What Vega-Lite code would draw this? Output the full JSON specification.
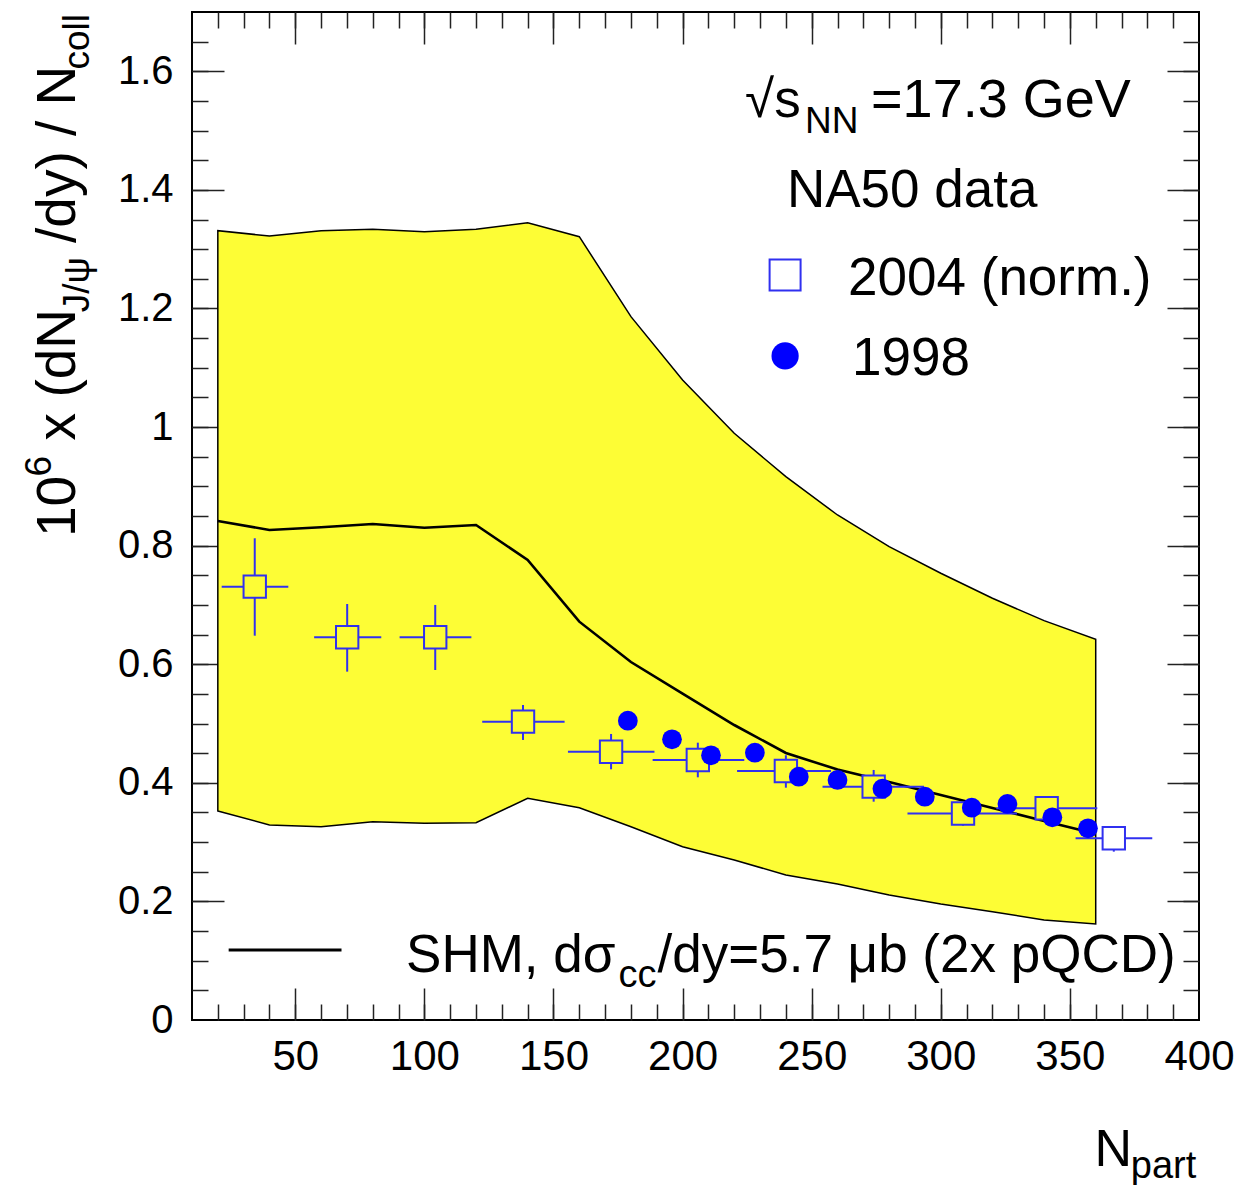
{
  "$schema": "https://vega.github.io/schema/vega-lite/v6.json",
  "width": 1007,
  "height": 1008,
  "autosize": {"type": "none"},
  "padding": {"left": 192, "top": 12, "right": 40, "bottom": 165},
  "background": "white",
  "config": {
    "view": {"stroke": "black", "strokeWidth": 2},
    "font": "Liberation Sans",
    "axis": {"grid": false, "domain": false, "labelColor": "black", "labelFont": "Liberation Sans", "tickColor": "#222222", "tickWidth": 1.5, "title": null}
  },
  "resolve": {"axis": {"x": "independent", "y": "independent"}},
  "datasets": {
    "band": [
      {"npart": 20, "lo": 0.3525, "hi": 1.3312},
      {"npart": 40, "lo": 0.3289, "hi": 1.3222},
      {"npart": 60, "lo": 0.326, "hi": 1.3312},
      {"npart": 80, "lo": 0.3345, "hi": 1.3336},
      {"npart": 100, "lo": 0.3317, "hi": 1.3295},
      {"npart": 120, "lo": 0.3328, "hi": 1.3336},
      {"npart": 140, "lo": 0.3739, "hi": 1.3447},
      {"npart": 160, "lo": 0.358, "hi": 1.3211},
      {"npart": 180, "lo": 0.326, "hi": 1.1862},
      {"npart": 200, "lo": 0.2923, "hi": 1.0794},
      {"npart": 220, "lo": 0.2699, "hi": 0.9895},
      {"npart": 240, "lo": 0.2446, "hi": 0.9163},
      {"npart": 260, "lo": 0.2294, "hi": 0.8517},
      {"npart": 280, "lo": 0.2108, "hi": 0.7983},
      {"npart": 300, "lo": 0.1956, "hi": 0.7534},
      {"npart": 320, "lo": 0.1827, "hi": 0.7113},
      {"npart": 340, "lo": 0.1687, "hi": 0.6735},
      {"npart": 360, "lo": 0.1619, "hi": 0.6421}
    ],
    "model": [
      {"npart": 20, "shm": 0.8416},
      {"npart": 40, "shm": 0.8265},
      {"npart": 60, "shm": 0.831},
      {"npart": 80, "shm": 0.8366},
      {"npart": 100, "shm": 0.8303},
      {"npart": 120, "shm": 0.8349},
      {"npart": 140, "shm": 0.7758},
      {"npart": 160, "shm": 0.6718},
      {"npart": 180, "shm": 0.6037},
      {"npart": 200, "shm": 0.5504},
      {"npart": 220, "shm": 0.4975},
      {"npart": 240, "shm": 0.4504},
      {"npart": 260, "shm": 0.4223},
      {"npart": 280, "shm": 0.4013},
      {"npart": 300, "shm": 0.3795},
      {"npart": 320, "shm": 0.3577},
      {"npart": 340, "shm": 0.3358},
      {"npart": 360, "shm": 0.314}
    ],
    "d2004": [
      {"x": 34.3, "y": 0.7308, "xlo": 21.5, "xhi": 47.3, "ylo": 0.6482, "yhi": 0.8124},
      {"x": 70.1, "y": 0.6455, "xlo": 57.3, "xhi": 83.3, "ylo": 0.5875, "yhi": 0.7016},
      {"x": 104.2, "y": 0.6455, "xlo": 90.4, "xhi": 118.2, "ylo": 0.5903, "yhi": 0.7},
      {"x": 138.2, "y": 0.5031, "xlo": 122.4, "xhi": 154.3, "ylo": 0.4723, "yhi": 0.5313},
      {"x": 172.3, "y": 0.4525, "xlo": 155.6, "xhi": 189.1, "ylo": 0.4228, "yhi": 0.4824},
      {"x": 205.9, "y": 0.4385, "xlo": 188.4, "xhi": 223.9, "ylo": 0.4093, "yhi": 0.4677},
      {"x": 240.0, "y": 0.42, "xlo": 221.1, "xhi": 257.5, "ylo": 0.3918, "yhi": 0.4465},
      {"x": 274.0, "y": 0.3935, "xlo": 254.2, "xhi": 293.5, "ylo": 0.3682, "yhi": 0.4217},
      {"x": 308.6, "y": 0.3483, "xlo": 287.1, "xhi": 329.5, "ylo": 0.3277, "yhi": 0.3682},
      {"x": 341.0, "y": 0.3571, "xlo": 321.5, "xhi": 360.6, "ylo": 0.339, "yhi": 0.3778},
      {"x": 367.0, "y": 0.3065, "xlo": 352.2, "xhi": 381.9, "ylo": 0.2839, "yhi": 0.3272}
    ],
    "d1998": [
      {"x": 178.8, "y": 0.5048},
      {"x": 195.9, "y": 0.4734},
      {"x": 211.0, "y": 0.4465},
      {"x": 228.0, "y": 0.4508},
      {"x": 245.0, "y": 0.4104},
      {"x": 260.0, "y": 0.4048},
      {"x": 277.4, "y": 0.3901},
      {"x": 293.8, "y": 0.3766},
      {"x": 312.0, "y": 0.3581},
      {"x": 325.8, "y": 0.3643},
      {"x": 343.2, "y": 0.3419},
      {"x": 357.0, "y": 0.3233}
    ],
    "one": [{}]
  },
  "layer": [
    {
      "data": {"name": "band"},
      "mark": {"type": "area", "fill": "#fdfd35", "stroke": "black", "strokeWidth": 1.5},
      "encoding": {
        "x": {"field": "npart", "type": "quantitative", "scale": {"domain": [10, 400], "nice": false, "zero": false},
          "axis": {"orient": "bottom", "values": [50, 100, 150, 200, 250, 300, 350, 400], "ticks": false, "tickSize": 0, "labelFontSize": 42, "labelPadding": 16, "labelBaseline": "top", "labelFlush": false}},
        "y": {"field": "lo", "type": "quantitative", "scale": {"domain": [0, 1.7], "nice": false, "zero": false},
          "axis": {"orient": "left", "values": [0, 0.2, 0.4, 0.6, 0.8, 1, 1.2, 1.4, 1.6], "format": "~g", "ticks": false, "tickSize": 0, "labelFontSize": 40, "labelPadding": 19, "labelFlush": false}},
        "y2": {"field": "hi"}
      }
    },
    {
      "data": {"name": "model"},
      "mark": {"type": "line", "color": "black", "strokeWidth": 2.6},
      "encoding": {
        "x": {"field": "npart", "type": "quantitative", "scale": {"domain": [10, 400], "nice": false, "zero": false},
          "axis": {"orient": "bottom", "values": [50, 100, 150, 200, 250, 300, 350], "labels": false, "ticks": true, "tickSize": -32}},
        "y": {"field": "shm", "type": "quantitative", "scale": {"domain": [0, 1.7], "nice": false, "zero": false},
          "axis": {"orient": "left", "values": [0.2, 0.4, 0.6, 0.8, 1, 1.2, 1.4, 1.6], "labels": false, "ticks": true, "tickSize": -32}}
      }
    },
    {
      "data": {"name": "d2004"},
      "mark": {"type": "rule", "color": "#3030f0", "strokeWidth": 2},
      "encoding": {
        "x": {"field": "xlo", "type": "quantitative", "scale": {"domain": [10, 400], "nice": false, "zero": false},
          "axis": {"orient": "bottom", "values": [20, 30, 40, 50, 60, 70, 80, 90, 100, 110, 120, 130, 140, 150, 160, 170, 180, 190, 200, 210, 220, 230, 240, 250, 260, 270, 280, 290, 300, 310, 320, 330, 340, 350, 360, 370, 380, 390], "labels": false, "ticks": true, "tickSize": -16}},
        "x2": {"field": "xhi"},
        "y": {"field": "y", "type": "quantitative", "scale": {"domain": [0, 1.7], "nice": false, "zero": false},
          "axis": {"orient": "left", "values": [0.05, 0.1, 0.15, 0.2, 0.25, 0.3, 0.35, 0.4, 0.45, 0.5, 0.55, 0.6, 0.65, 0.7, 0.75, 0.8, 0.85, 0.9, 0.95, 1, 1.05, 1.1, 1.15, 1.2, 1.25, 1.3, 1.35, 1.4, 1.45, 1.5, 1.55, 1.6, 1.65], "labels": false, "ticks": true, "tickSize": -16}}
      }
    },
    {
      "data": {"name": "d2004"},
      "mark": {"type": "rule", "color": "#3030f0", "strokeWidth": 2},
      "encoding": {
        "x": {"field": "x", "type": "quantitative", "scale": {"domain": [10, 400], "nice": false, "zero": false},
          "axis": {"orient": "top", "values": [50, 100, 150, 200, 250, 300, 350], "labels": false, "ticks": true, "tickSize": -32}},
        "y": {"field": "ylo", "type": "quantitative", "scale": {"domain": [0, 1.7], "nice": false, "zero": false},
          "axis": {"orient": "right", "values": [0.2, 0.4, 0.6, 0.8, 1, 1.2, 1.4, 1.6], "labels": false, "ticks": true, "tickSize": -32}},
        "y2": {"field": "yhi"}
      }
    },
    {
      "data": {"name": "d2004"},
      "mark": {"type": "point", "shape": "square", "size": 500, "stroke": "#3030f0", "strokeWidth": 2, "opacity": 1, "filled": false},
      "encoding": {
        "x": {"field": "x", "type": "quantitative", "scale": {"domain": [10, 400], "nice": false, "zero": false},
          "axis": {"orient": "top", "values": [20, 30, 40, 50, 60, 70, 80, 90, 100, 110, 120, 130, 140, 150, 160, 170, 180, 190, 200, 210, 220, 230, 240, 250, 260, 270, 280, 290, 300, 310, 320, 330, 340, 350, 360, 370, 380, 390], "labels": false, "ticks": true, "tickSize": -16}},
        "y": {"field": "y", "type": "quantitative", "scale": {"domain": [0, 1.7], "nice": false, "zero": false},
          "axis": {"orient": "right", "values": [0.05, 0.1, 0.15, 0.2, 0.25, 0.3, 0.35, 0.4, 0.45, 0.5, 0.55, 0.6, 0.65, 0.7, 0.75, 0.8, 0.85, 0.9, 0.95, 1, 1.05, 1.1, 1.15, 1.2, 1.25, 1.3, 1.35, 1.4, 1.45, 1.5, 1.55, 1.6, 1.65], "labels": false, "ticks": true, "tickSize": -16}},
        "fill": {"condition": {"test": "datum.x > 360", "value": "white"}, "value": "#fdfd35"},
        "fillOpacity": {"value": 1}
      }
    },
    {
      "data": {"name": "d1998"},
      "mark": {"type": "point", "shape": "circle", "size": 390, "filled": true, "color": "#0000ff", "opacity": 1},
      "encoding": {
        "x": {"field": "x", "type": "quantitative", "scale": {"domain": [10, 400], "nice": false, "zero": false}, "axis": null},
        "y": {"field": "y", "type": "quantitative", "scale": {"domain": [0, 1.7], "nice": false, "zero": false}, "axis": null}
      }
    },
    {
      "data": {"name": "one"},
      "mark": {"type": "point", "shape": "square", "size": 960, "filled": false, "fill": "white", "stroke": "#3030f0", "strokeWidth": 2, "opacity": 1},
      "encoding": {
        "x": {"datum": 239.7, "type": "quantitative", "scale": {"domain": [10, 400], "nice": false, "zero": false}, "axis": null},
        "y": {"datum": 1.2565, "type": "quantitative", "scale": {"domain": [0, 1.7], "nice": false, "zero": false}, "axis": null}
      }
    },
    {
      "data": {"name": "one"},
      "mark": {"type": "point", "shape": "circle", "size": 740, "filled": true, "color": "#0000ff", "opacity": 1},
      "encoding": {
        "x": {"datum": 239.7, "type": "quantitative", "scale": {"domain": [10, 400], "nice": false, "zero": false}, "axis": null},
        "y": {"datum": 1.12, "type": "quantitative", "scale": {"domain": [0, 1.7], "nice": false, "zero": false}, "axis": null}
      }
    },
    {
      "data": {"name": "one"},
      "mark": {"type": "rule", "color": "black", "strokeWidth": 3},
      "encoding": {
        "x": {"datum": 24.2, "type": "quantitative", "scale": {"domain": [10, 400], "nice": false, "zero": false}, "axis": null},
        "x2": {"datum": 67.9},
        "y": {"datum": 0.118, "type": "quantitative", "scale": {"domain": [0, 1.7], "nice": false, "zero": false}, "axis": null}
      }
    },
    {
      "data": {"name": "one"},
      "mark": {"type": "text", "text": "SHM, dσ", "fontSize": 53, "align": "left", "baseline": "alphabetic", "color": "black"},
      "encoding": {
        "x": {"datum": 92.9, "type": "quantitative", "scale": {"domain": [10, 400], "nice": false, "zero": false}, "axis": null},
        "y": {"datum": 0.0815, "type": "quantitative", "scale": {"domain": [0, 1.7], "nice": false, "zero": false}, "axis": null}
      }
    },
    {
      "data": {"name": "one"},
      "mark": {"type": "text", "text": "cc", "fontSize": 38, "align": "left", "baseline": "alphabetic", "color": "black"},
      "encoding": {
        "x": {"datum": 175.2, "type": "quantitative", "scale": {"domain": [10, 400], "nice": false, "zero": false}, "axis": null},
        "y": {"datum": 0.0562, "type": "quantitative", "scale": {"domain": [0, 1.7], "nice": false, "zero": false}, "axis": null}
      }
    },
    {
      "data": {"name": "one"},
      "mark": {"type": "text", "text": "/dy=5.7 μb (2x pQCD)", "fontSize": 53, "align": "left", "baseline": "alphabetic", "color": "black"},
      "encoding": {
        "x": {"datum": 190.3, "type": "quantitative", "scale": {"domain": [10, 400], "nice": false, "zero": false}, "axis": null},
        "y": {"datum": 0.0815, "type": "quantitative", "scale": {"domain": [0, 1.7], "nice": false, "zero": false}, "axis": null}
      }
    },
    {
      "data": {"name": "one"},
      "mark": {"type": "text", "text": "√s", "fontSize": 53, "align": "left", "baseline": "alphabetic", "color": "black"},
      "encoding": {
        "x": {"datum": 224.2, "type": "quantitative", "scale": {"domain": [10, 400], "nice": false, "zero": false}, "axis": null},
        "y": {"datum": 1.523, "type": "quantitative", "scale": {"domain": [0, 1.7], "nice": false, "zero": false}, "axis": null}
      }
    },
    {
      "data": {"name": "one"},
      "mark": {"type": "text", "text": "NN", "fontSize": 37, "align": "left", "baseline": "alphabetic", "color": "black"},
      "encoding": {
        "x": {"datum": 247.4, "type": "quantitative", "scale": {"domain": [10, 400], "nice": false, "zero": false}, "axis": null},
        "y": {"datum": 1.496, "type": "quantitative", "scale": {"domain": [0, 1.7], "nice": false, "zero": false}, "axis": null}
      }
    },
    {
      "data": {"name": "one"},
      "mark": {"type": "text", "text": "=17.3 GeV", "fontSize": 54, "align": "left", "baseline": "alphabetic", "color": "black"},
      "encoding": {
        "x": {"datum": 273.0, "type": "quantitative", "scale": {"domain": [10, 400], "nice": false, "zero": false}, "axis": null},
        "y": {"datum": 1.523, "type": "quantitative", "scale": {"domain": [0, 1.7], "nice": false, "zero": false}, "axis": null}
      }
    },
    {
      "data": {"name": "one"},
      "mark": {"type": "text", "text": "NA50 data", "fontSize": 53, "align": "left", "baseline": "alphabetic", "color": "black"},
      "encoding": {
        "x": {"datum": 240.4, "type": "quantitative", "scale": {"domain": [10, 400], "nice": false, "zero": false}, "axis": null},
        "y": {"datum": 1.371, "type": "quantitative", "scale": {"domain": [0, 1.7], "nice": false, "zero": false}, "axis": null}
      }
    },
    {
      "data": {"name": "one"},
      "mark": {"type": "text", "text": "2004 (norm.)", "fontSize": 53, "align": "left", "baseline": "alphabetic", "color": "black"},
      "encoding": {
        "x": {"datum": 264.1, "type": "quantitative", "scale": {"domain": [10, 400], "nice": false, "zero": false}, "axis": null},
        "y": {"datum": 1.2228, "type": "quantitative", "scale": {"domain": [0, 1.7], "nice": false, "zero": false}, "axis": null}
      }
    },
    {
      "data": {"name": "one"},
      "mark": {"type": "text", "text": "1998", "fontSize": 53, "align": "left", "baseline": "alphabetic", "color": "black"},
      "encoding": {
        "x": {"datum": 265.6, "type": "quantitative", "scale": {"domain": [10, 400], "nice": false, "zero": false}, "axis": null},
        "y": {"datum": 1.0879, "type": "quantitative", "scale": {"domain": [0, 1.7], "nice": false, "zero": false}, "axis": null}
      }
    },
    {
      "data": {"name": "one"},
      "mark": {"type": "text", "text": "N", "fontSize": 52, "align": "left", "baseline": "alphabetic", "color": "black"},
      "encoding": {
        "x": {"datum": 359.5, "type": "quantitative", "scale": {"domain": [10, 400], "nice": false, "zero": false}, "axis": null},
        "y": {"datum": -0.246, "type": "quantitative", "scale": {"domain": [0, 1.7], "nice": false, "zero": false}, "axis": null}
      }
    },
    {
      "data": {"name": "one"},
      "mark": {"type": "text", "text": "part", "fontSize": 38, "align": "left", "baseline": "alphabetic", "color": "black"},
      "encoding": {
        "x": {"datum": 373.6, "type": "quantitative", "scale": {"domain": [10, 400], "nice": false, "zero": false}, "axis": null},
        "y": {"datum": -0.2665, "type": "quantitative", "scale": {"domain": [0, 1.7], "nice": false, "zero": false}, "axis": null}
      }
    },
    {
      "data": {"name": "one"},
      "mark": {"type": "text", "text": "10", "fontSize": 55, "angle": 270, "align": "left", "baseline": "alphabetic", "color": "black"},
      "encoding": {
        "x": {"datum": -35.3, "type": "quantitative", "scale": {"domain": [10, 400], "nice": false, "zero": false}, "axis": null},
        "y": {"datum": 0.8146, "type": "quantitative", "scale": {"domain": [0, 1.7], "nice": false, "zero": false}, "axis": null}
      }
    },
    {
      "data": {"name": "one"},
      "mark": {"type": "text", "text": "6", "fontSize": 37, "angle": 270, "dy": -24, "align": "left", "baseline": "alphabetic", "color": "black"},
      "encoding": {
        "x": {"datum": -35.3, "type": "quantitative", "scale": {"domain": [10, 400], "nice": false, "zero": false}, "axis": null},
        "y": {"datum": 0.9165, "type": "quantitative", "scale": {"domain": [0, 1.7], "nice": false, "zero": false}, "axis": null}
      }
    },
    {
      "data": {"name": "one"},
      "mark": {"type": "text", "text": "x (dN", "fontSize": 55, "angle": 270, "align": "left", "baseline": "alphabetic", "color": "black"},
      "encoding": {
        "x": {"datum": -35.3, "type": "quantitative", "scale": {"domain": [10, 400], "nice": false, "zero": false}, "axis": null},
        "y": {"datum": 0.9775, "type": "quantitative", "scale": {"domain": [0, 1.7], "nice": false, "zero": false}, "axis": null}
      }
    },
    {
      "data": {"name": "one"},
      "mark": {"type": "text", "text": "J/ψ", "fontSize": 37, "angle": 270, "dy": 14, "align": "left", "baseline": "alphabetic", "color": "black"},
      "encoding": {
        "x": {"datum": -35.3, "type": "quantitative", "scale": {"domain": [10, 400], "nice": false, "zero": false}, "axis": null},
        "y": {"datum": 1.1935, "type": "quantitative", "scale": {"domain": [0, 1.7], "nice": false, "zero": false}, "axis": null}
      }
    },
    {
      "data": {"name": "one"},
      "mark": {"type": "text", "text": "/dy) / N", "fontSize": 55, "angle": 270, "align": "left", "baseline": "alphabetic", "color": "black"},
      "encoding": {
        "x": {"datum": -35.3, "type": "quantitative", "scale": {"domain": [10, 400], "nice": false, "zero": false}, "axis": null},
        "y": {"datum": 1.3105, "type": "quantitative", "scale": {"domain": [0, 1.7], "nice": false, "zero": false}, "axis": null}
      }
    },
    {
      "data": {"name": "one"},
      "mark": {"type": "text", "text": "coll", "fontSize": 37, "angle": 270, "dy": 14, "align": "left", "baseline": "alphabetic", "color": "black"},
      "encoding": {
        "x": {"datum": -35.3, "type": "quantitative", "scale": {"domain": [10, 400], "nice": false, "zero": false}, "axis": null},
        "y": {"datum": 1.603, "type": "quantitative", "scale": {"domain": [0, 1.7], "nice": false, "zero": false}, "axis": null}
      }
    }
  ]
}
